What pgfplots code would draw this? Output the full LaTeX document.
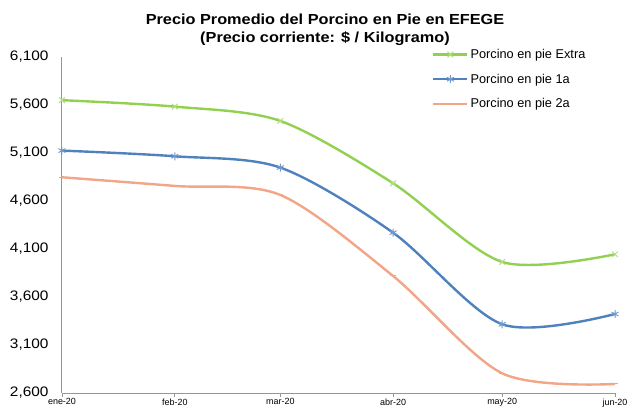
\documentclass[border=0pt]{standalone}
\usepackage{fontspec}
\setmainfont{Liberation Sans}
\newfontfamily\widef[FakeStretch=1.12]{Liberation Sans}
\usepackage{pgfplots}
\pgfplotsset{compat=1.18}
\definecolor{cExtra}{RGB}{146,208,80}
\definecolor{cUno}{RGB}{79,129,189}
\definecolor{cDos}{RGB}{242,165,135}
\definecolor{cAxis}{RGB}{150,150,150}
\begin{document}
\begin{tikzpicture}
\path[use as bounding box] (-62bp,-16bp) rectangle (570bp,393bp);
\begin{axis}[
  scale only axis, width=553bp, height=336bp,
  at={(0,0)}, anchor=south west,
  xmin=0, xmax=152, ymin=2600, ymax=6100,
  axis lines=left,
  axis line style={draw=cAxis, line width=1bp, -},
  xtick={0,31,60,91,121,152},
  xticklabels={ene-20,feb-20,mar-20,abr-20,may-20,jun-20},
  ytick={2600,3100,...,6100},
  tick align=outside,
  major tick length=4bp,
  xtick style={draw=cAxis, line width=0.8bp},
  ytick style={draw=none},
  /pgf/number format/assume math mode=true,
  /pgf/number format/.cd, fixed, 1000 sep={,}, /pgfplots/.cd,
  yticklabel style={font=\widef\fontsize{13.8}{15}\selectfont, xshift=-6bp},
  xticklabel style={font=\fontsize{9}{10}\selectfont, inner sep=1.5bp},
  clip=false,
  legend cell align=left,
  legend style={draw=none, fill=none, at={(0.669,1.03)}, anchor=north west,
    font=\fontsize{12.8}{14}\selectfont, row sep=10bp, inner sep=0pt},
  legend image code/.code={\draw[#1, mark repeat=2, mark phase=2] plot coordinates {(0bp,0bp)(17bp,0bp)(34bp,0bp)};},
  every axis plot/.append style={line width=2.4bp, smooth, tension=0.5},
]
\addplot[cExtra, mark=x, mark size=4bp, mark options={line width=1bp, draw=cExtra!70!white, solid}]
  coordinates {(0,5650) (31,5583) (60,5434) (91,4785) (121,3965) (152,4045)};
\addplot[cUno, mark=asterisk, mark size=4bp, mark options={line width=1bp, draw=cUno!80!white, solid}]
  coordinates {(0,5125) (31,5066) (60,4948) (91,4270) (121,3316) (152,3423)};
\addplot[cDos, mark=-, mark size=3bp, mark options={line width=1bp, draw=cDos, solid}]
  coordinates {(0,4847) (31,4757) (60,4663) (91,3819) (121,2805) (152,2694)};
\legend{Porcino en pie Extra, Porcino en pie 1a, Porcino en pie 2a}
\end{axis}
\node[align=center, font=\widef\bfseries\fontsize{14.6}{18}\selectfont] at (263bp,363bp)
  {Precio Promedio del Porcino en Pie en EFEGE\\(Precio corriente: \$ / Kilogramo)};
\end{tikzpicture}
\end{document}
